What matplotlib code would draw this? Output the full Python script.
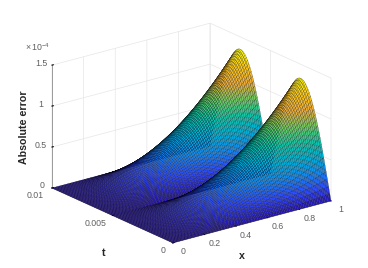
import numpy as np
import matplotlib
matplotlib.use("Agg")
import matplotlib.pyplot as plt
from matplotlib.colors import LinearSegmentedColormap
from mpl_toolkits.mplot3d import proj3d

plt.rcParams["font.family"] = ["Liberation Sans", "DejaVu Sans"]
plt.rcParams["mathtext.default"] = "regular"

# values: height of the surface along t and along x
x_vals = [i / 100 for i in range(101)]
t_vals = [i * 0.0001 for i in range(101)]
front_hump = [0, .0628, .1253, .1874, .2487, .309, .3681, .4258, .4818, .5358, .5878, .6374, .6845,
              .729, .7705, .809, .8443, .8763, .9048, .9298, .9511, .9686, .9823, .9921, .998, 1.0,
              .998, .9921, .9823, .9686, .9511, .9298, .9048, .8763, .8443, .809, .7705, .729,
              .6845, .6374, .5878, .5358, .4818, .4258, .3681, .309, .2487, .1874, .1253, .0628, 0]
back_hump = [.0637, .1272, .1902, .2524, .3136, .3736, .4322, .489, .5438, .5966, .647, .6948,
             .7399, .7821, .8211, .857, .8894, .9184, .9437, .9654, .9831, .997, 1.007, 1.013, 1.015,
             1.013, 1.007, .997, .9831, .9654, .9437, .9184, .8894, .857, .8211, .7821, .7399,
             .6948, .647, .5966, .5438, .489, .4322, .3736, .3136, .2524, .1902, .1272, .0637, 0]
x_profile = [0, .0001, .0004, .0009, .0016, .0025, .0036, .0049, .0064, .0081, .01, .0121, .0144,
             .0169, .0196, .0225, .0256, .0289, .0324, .0361, .04, .0441, .0484, .0529, .0576,
             .0625, .0676, .0729, .0784, .0841, .09, .0961, .1024, .1089, .1156, .1225, .1296,
             .1369, .1444, .1521, .16, .1681, .1764, .1849, .1936, .2025, .2116, .2209, .2304,
             .2401, .25, .2601, .2704, .2809, .2916, .3025, .3136, .3249, .3364, .3481, .36,
             .3721, .3844, .3969, .4096, .4225, .4356, .4489, .4624, .4761, .49, .5041, .5184,
             .5329, .5476, .5625, .5776, .5929, .6084, .6241, .64, .6561, .6724, .6889, .7056,
             .7225, .7396, .7569, .7744, .7921, .81, .8281, .8464, .8649, .8836, .9025, .9216,
             .9409, .9604, .9801, 1.0]
peak = 1.33e-4

x_ticks = [0, 0.2, 0.4, 0.6, 0.8, 1]
x_labels = ["0", "0.2", "0.4", "0.6", "0.8", "1"]
t_ticks = [0, 0.005, 0.01]
t_labels = ["0", "0.005", "0.01"]
z_ticks = [0, 0.5e-4, 1e-4, 1.5e-4]
z_labels = ["0", "0.5", "1", "1.5"]

parula = LinearSegmentedColormap.from_list("parula", ["#2410b0", "#2a48ff", "#1489f0", "#00b0d8",
                                                      "#10c4a8", "#68cc60", "#eeaa38", "#ffc810", "#fcff00"])

W, H = 368, 268
fig = plt.figure(figsize=(W / 100, H / 100), dpi=100)
ax = fig.add_axes([0, (H - W) / 2 / H, 1, W / H], projection="3d", proj_type="ortho")

X, T = np.meshgrid(x_vals, t_vals)
Z = peak * np.outer(front_hump + back_hump, x_profile)
ax.plot_surface(X, T, Z, cmap=parula, vmin=0, vmax=Z.max(), rstride=1, cstride=1,
                edgecolor="k", linewidth=0.13, antialiased=True, shade=False)

ax.set_xlim(0, 1)
ax.set_ylim(0, 0.01)
ax.set_zlim(0, 1.5e-4)
ax.view_init(elev=20.3, azim=-127.4)
ax.set_xticks(x_ticks)
ax.set_yticks(t_ticks)
ax.set_zticks(z_ticks)
ax.set_xticklabels([])
ax.set_yticklabels([])
ax.set_zticklabels([])

for axis in (ax.xaxis, ax.yaxis, ax.zaxis):
    axis.set_pane_color((1, 1, 1, 0))
    axis.pane.set_edgecolor("#e6e6e6")
    axis.line.set_color("#8c8c8c")
    axis.line.set_linewidth(0.6)
    axis._axinfo["grid"]["color"] = "#e6e6e6"
    axis._axinfo["grid"]["linewidth"] = 0.5
    axis._axinfo["tick"]["color"] = "#808080"
    axis._axinfo["tick"]["outward_factor"] = 0.1
    axis._axinfo["tick"]["inward_factor"] = 0


def to_px(x, t, z):
    px, py, _ = proj3d.proj_transform(x, t, z, ax.get_proj())
    return ax.transData.transform((px, py))


# fit the box onto the corners seen in the picture
ax.set_box_aspect((199, 199, 131), zoom=1)
fig.canvas.draw()
left, right = to_px(0, 0.01, 0), to_px(1, 0, 0)
ax.set_box_aspect((199, 199, 131), zoom=(331 - 52) / (right[0] - left[0]))
fig.canvas.draw()
left = to_px(0, 0.01, 0)
dx, dy = 52 - left[0], (H - 188) - left[1]
pos = ax.get_position()
ax.set_position([pos.x0 + dx / W, pos.y0 + dy / H, pos.width, pos.height])
fig.canvas.draw()


def note(x, t, z, text, dx, dy, **kw):
    px, py = to_px(x, t, z)
    fig.text((px + dx) / W, (py + dy) / H, text, ha="center", va="center",
             color="#606060", **kw)


for v, s in zip(x_ticks, x_labels):
    note(v, 0, 0, s, 10, -9, fontsize=6.3)
for v, s in zip(t_ticks, t_labels):
    note(0, v, 0, s, -17 if v else -10, -8, fontsize=6.3)
for v, s in zip(z_ticks, z_labels):
    note(0, 0.01, v, s, -11 if v else -10, 2, fontsize=6.3)

fig.text(38 / W, 1 - 47 / H, r"$\times\,10^{-4}$", ha="center", va="center", fontsize=6.3, color="#606060")
fig.text(24 / W, 1 - 127 / H, "Absolute error", rotation=90, ha="center", va="center",
         fontsize=7.7, fontweight="bold", color="#262626")
fig.text(104 / W, 1 - 253 / H, "t", ha="center", va="center", fontsize=7.7, fontweight="bold", color="#262626")
fig.text(242 / W, 1 - 256 / H, "x", ha="center", va="center", fontsize=7.7, fontweight="bold", color="#262626")

fig.savefig("out.png", dpi=100)
